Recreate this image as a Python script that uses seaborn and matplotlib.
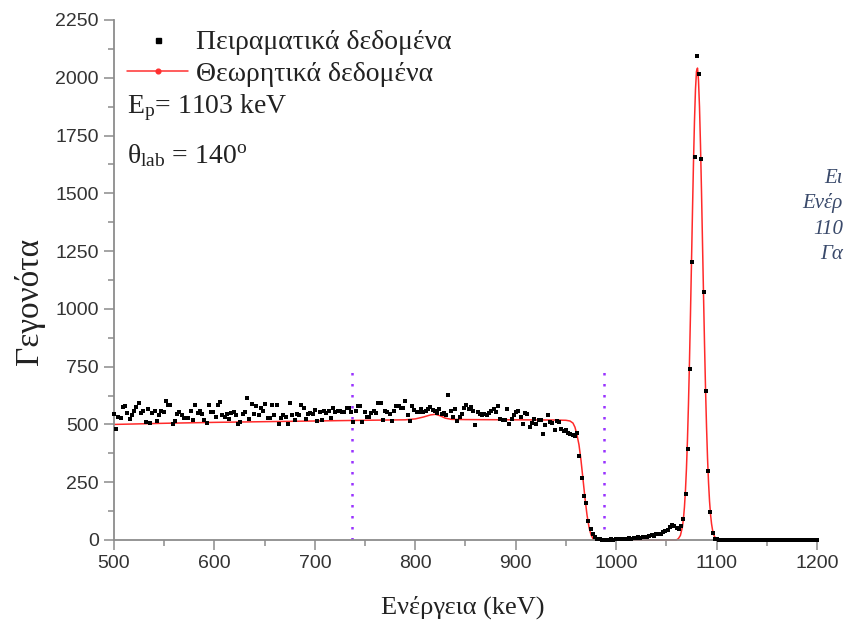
import numpy as np
import pandas as pd
import matplotlib
matplotlib.use("Agg")
import matplotlib.pyplot as plt
import seaborn as sns
from matplotlib.lines import Line2D
from matplotlib.legend_handler import HandlerLine2D
from matplotlib.ticker import MultipleLocator

sns.set_style("ticks")
plt.rcParams['font.family'] = ['Liberation Sans', 'DejaVu Sans']
plt.rcParams['mathtext.fontset'] = 'custom'
plt.rcParams['mathtext.rm'] = 'Liberation Serif'
plt.rcParams['mathtext.it'] = 'Liberation Serif:italic'

# ---------------- data ----------------
# channel calibration of the experimental spectrum
E_START = 499.9       # keV of first channel
KEV_PER_CH = 2.25     # keV per channel

counts_plateau_a = [
    546, 481, 534, 529, 575, 579, 549, 524, 539, 557,
    575, 592, 550, 560, 510, 565, 506, 549, 557, 517,
    539, 557, 553, 603, 585, 585, 500, 514, 546, 553,
    541, 529, 529, 529, 557, 520, 585, 549, 560, 546,
    520, 506, 585, 556, 552, 532, 585, 596, 543, 534,
    546, 524, 549, 553, 543, 503, 510, 546, 556, 613,
    524, 588, 546, 579, 542, 570, 560, 589, 529, 529,
    582, 539, 582, 503, 530, 539, 534, 503, 592, 539,
    520, 546, 542, 582, 572, 524, 547, 549, 546, 563,
    514, 553, 520, 560, 549, 560, 529, 571, 553, 560,
    557, 556, 553, 570, 570, 553, 510, 557, 578, 578,
    510, 553, 532, 534, 549, 558, 549, 592, 592, 520,
    557, 553, 546, 517, 560, 578,
]
counts_plateau_b = [
    578, 572, 570, 603, 539, 517, 579, 563, 553, 553,
    566, 553, 560, 568, 575, 563, 560, 549, 568, 546,
    549, 541, 628, 560, 534, 568, 513, 532, 546, 572,
    582, 568, 575, 557, 496, 553, 546, 543, 546, 539,
    549, 560, 568, 552, 579, 524, 520, 520, 568, 503,
    524, 543, 553, 560, 531, 500, 549, 546, 489, 506,
    524, 503, 520, 520, 457, 498, 539, 510, 506, 474,
    515, 510, 481, 471, 474, 463, 457, 455, 448, 463,
]
counts_edge = [363, 270, 191, 158, 82, 47, 24, 11]
counts_gap = [
    6, 3, 2, 1, 2, 1, 3, 2, 4, 3,
    5, 4, 6, 5, 7, 6, 9, 8, 11, 10,
    13, 15, 14, 18, 21, 19, 25, 28, 26, 33,
    38, 45, 58, 64, 60, 52, 48, 62,
]
counts_peak = [93, 201, 395, 740, 1204, 1657, 2095, 2016, 1648, 1073,
               644, 297, 119, 29, 6]
counts_tail = [
    3, 2, 1, 2, 0, 1, 2, 1, 0, 1,
    2, 1, 1, 0, 2, 1, 0, 1, 1, 2,
    0, 1, 1, 0, 1, 2, 1, 0, 1, 1,
    0, 1, 0, 1, 2, 1, 0, 1, 0, 1,
    1, 0, 1, 0, 1,
]
exp_counts = (counts_plateau_a + counts_plateau_b + counts_edge +
              counts_gap + counts_peak + counts_tail)
exp_energy = E_START + KEV_PER_CH * np.arange(len(exp_counts))

theory_energy = [
    500, 550, 600, 650, 700, 750, 790, 800, 808, 815, 820, 825, 830, 836,
    850, 900, 940, 950, 954, 957, 959, 961, 963, 965, 967, 969, 971, 973,
    975, 977, 979, 982, 1060, 1062, 1064, 1066, 1067, 1068, 1069, 1070,
    1071, 1072, 1073, 1074, 1075, 1076, 1077, 1078, 1079, 1080, 1081,
    1082, 1083, 1084, 1085, 1086, 1087, 1088, 1089, 1090, 1091, 1092,
    1093, 1094, 1095, 1096, 1097, 1098, 1099, 1100, 1102, 1105, 1200,
]
theory_counts = [
    500, 505, 509, 512, 515, 518, 520, 524, 532, 541, 544, 537, 527, 522,
    521, 520, 519, 518, 515, 506, 488, 455, 412, 345, 263, 180, 108, 55,
    22, 6, 1, 0, 0, 6, 20, 57, 92, 142, 213, 308,
    432, 585, 768, 974, 1195, 1419, 1631, 1813, 1950, 2028, 2042,
    1989, 1874, 1708, 1507, 1285, 1061, 848, 655, 490, 354, 248,
    168, 110, 70, 43, 25, 15, 8, 4, 1, 0, 0,
]

window_energy = [737, 988]
window_top = 750

legend_labels = ["Πειραματικά δεδομένα", "Θεωρητικά δεδομένα"]
x_ticks = [500, 600, 700, 800, 900, 1000, 1100, 1200]
y_ticks = [0, 250, 500, 750, 1000, 1250, 1500, 1750, 2000, 2250]

# ---------------- figure ----------------
W, H = 844, 622
fig = plt.figure(figsize=(W / 100, H / 100), dpi=100)
ax = fig.add_axes([114 / W, 82 / H, 703 / W, 520 / H])

exp_df = pd.DataFrame({"E": exp_energy, "N": exp_counts})
th_df = pd.DataFrame({"E": theory_energy, "N": theory_counts})

sns.lineplot(data=th_df, x="E", y="N", ax=ax, color="#ff2a2a", lw=1.1,
             estimator=None, sort=False, zorder=2, clip_on=False)
sns.scatterplot(data=exp_df, x="E", y="N", ax=ax, color="black", marker="s",
                s=12, linewidth=0, zorder=3, clip_on=False)

ax.vlines(window_energy, 0, window_top, colors="#9933ff",
          linestyles=(0, (1, 3.4)), linewidth=1.8, zorder=1)

ax.set_xlim(500, 1200)
ax.set_ylim(0, 2250)
ax.set_xticks(x_ticks)
ax.set_yticks(y_ticks)
ax.xaxis.set_minor_locator(MultipleLocator(50))
ax.yaxis.set_minor_locator(MultipleLocator(125))
sns.despine(ax=ax)
for sp in ("left", "bottom"):
    ax.spines[sp].set_color("#8c8c8c")
    ax.spines[sp].set_linewidth(1.3)
ax.tick_params(which="major", length=7, width=1.1, color="#8c8c8c",
               labelsize=14, labelcolor="#333333", direction="out", pad=4)
ax.tick_params(which="minor", length=4, width=1.1, color="#8c8c8c",
               direction="out")

ax.set_xlabel("Ενέργεια (keV)", fontsize=19, family="Liberation Serif",
              color="#222222", va="center", ha="center")
ax.xaxis.set_label_coords((463 - 114) / 703, -(607 - 540) / 520)
ax.set_ylabel("Γεγονότα", fontsize=24, family="Liberation Serif",
              color="#222222", va="center", ha="center")
ax.yaxis.set_label_coords(-(114 - 30) / 703, (540 - 301) / 520)


class RightMarker(HandlerLine2D):
    def get_xdata(self, legend, xdescent, ydescent, width, height, fontsize):
        return [-xdescent, -xdescent + width], [-xdescent + 0.97 * width]


h_exp = Line2D([], [], ls="none", marker="s", color="black", markersize=3.6)
h_th = Line2D([], [], color="#ff3030", lw=1.1, marker="o", markersize=3.4)
leg = ax.legend([h_exp, h_th], legend_labels, loc="upper left",
                bbox_to_anchor=((127 - 114) / 703, (540 - 30) / 520),
                frameon=False, borderpad=0, borderaxespad=0,
                prop={"family": "Liberation Serif", "size": 20},
                handlelength=2.2, handletextpad=0.3, labelspacing=0.22,
                handler_map={h_exp: RightMarker()})
for t in leg.get_texts():
    t.set_color("#222222")

fig.text(127 / W, 1 - 113 / H, r"E$_\mathregular{p}$= 1103 keV",
         fontsize=20, family="Liberation Serif", color="#222222",
         va="baseline")
fig.text(127 / W, 1 - 163 / H, r"θ$_\mathregular{lab}$ = 140$^\mathregular{o}$",
         fontsize=20, family="Liberation Serif", color="#222222",
         va="baseline")

# caption fragments visible at the right edge of the reference
side_style = dict(fontsize=15, family="Liberation Serif", style="italic",
                  color="#3a4a6b", va="baseline", ha="right")
fig.text(843 / W, 1 - 183 / H, "Ει", **side_style)
fig.text(843 / W, 1 - 208 / H, "Ενέρ", **side_style)
fig.text(843 / W, 1 - 234 / H, "110", **side_style)
fig.text(843 / W, 1 - 259 / H, "Γα", **side_style)

fig.savefig("out.png", dpi=100)
